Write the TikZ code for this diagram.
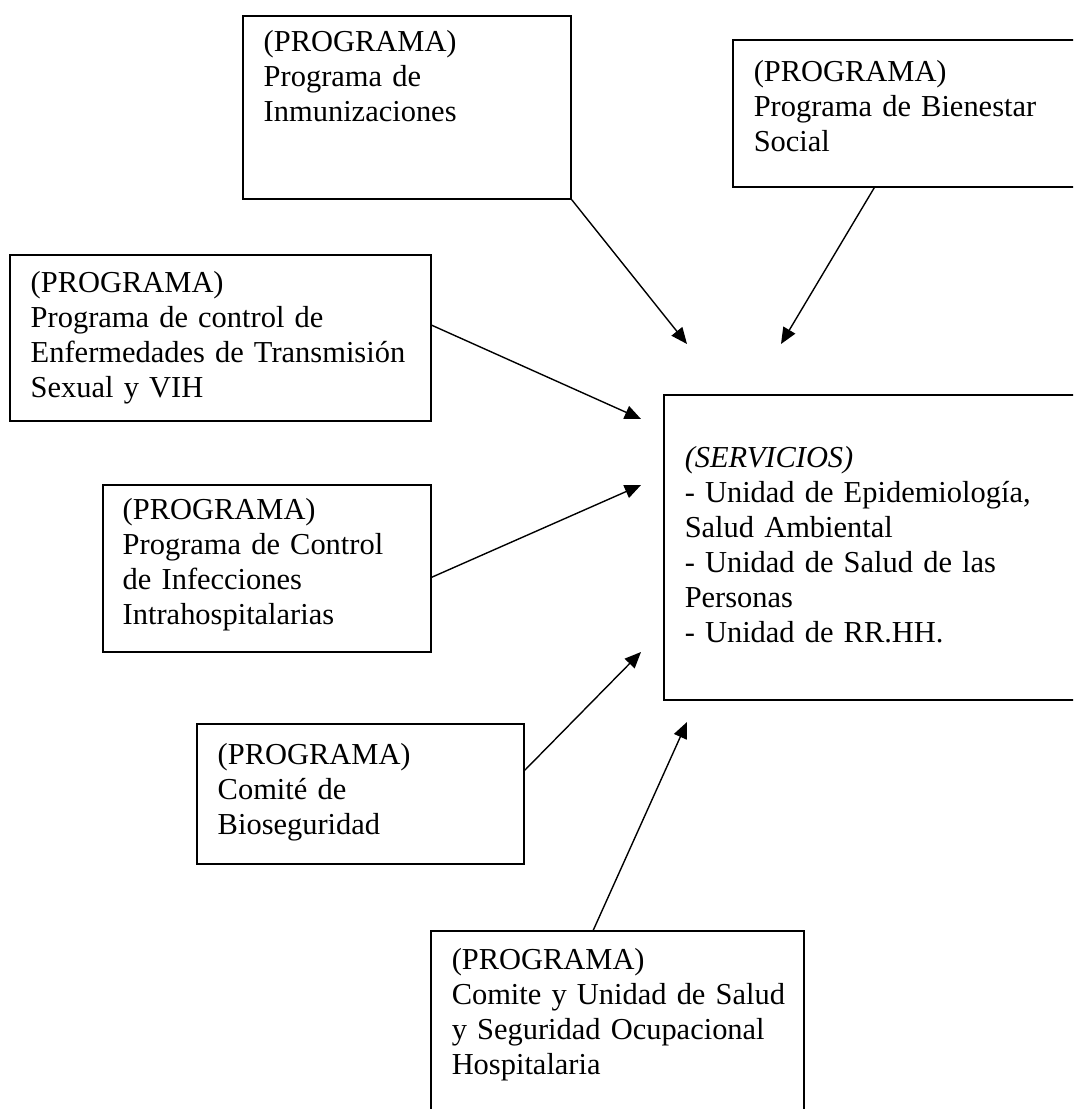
\documentclass[tikz,border=0pt]{standalone}
\usepackage{fontspec}
\setmainfont{Liberation Serif}
\usetikzlibrary{arrows.meta,fit,calc}

\begin{document}
\begin{tikzpicture}[x=0.394pt, y=-0.394pt,
	caja/.style={draw, line width=0.6pt, inner sep=0pt},
	txt/.style={anchor=base west, inner sep=0pt, text width=160pt, align=left, font=\fontsize{12pt}{13.8pt}\selectfont},
	flecha/.style={-{Triangle[length=6.4pt,width=5.4pt]}, line width=0.55pt}]
	\clip (0,0) rectangle (1073,1109);

	\node[caja, fit={(243,16) (571,199)}] (inm) {};
	\node[caja, fit={(733,40) (1090,187)}] (bien) {};
	\node[caja, fit={(10,255) (431,421)}] (ets) {};
	\node[caja, fit={(103,485) (431,652)}] (inf) {};
	\node[caja, fit={(197,724) (524,864)}] (bio) {};
	\node[caja, fit={(431,931) (804,1120)}] (com) {};
	\node[caja, fit={(664,395) (1090,700)}] (serv) {};

	\node[txt] (tinm) at ([shift={(21,36)}]inm.north west) {(PROGRAMA)\\Programa de\\Inmunizaciones};
	\node[txt] (tbien) at ([shift={(21,42)}]bien.north west) {(PROGRAMA)\\Programa de Bienestar\\Social};
	\node[txt] (tets) at ([shift={(21,38)}]ets.north west) {(PROGRAMA)\\Programa de control de\\Enfermedades de Transmisión\\Sexual y VIH};
	\node[txt] (tinf) at ([shift={(20,35)}]inf.north west) {(PROGRAMA)\\Programa de Control\\de Infecciones\\Intrahospitalarias};
	\node[txt] (tbio) at ([shift={(21,41)}]bio.north west) {(PROGRAMA)\\Comité de\\Bioseguridad};
	\node[txt] (tcom) at ([shift={(21,39)}]com.north west) {(PROGRAMA)\\Comite y Unidad de Salud\\y Seguridad Ocupacional\\Hospitalaria};
	\node[txt] (tserv) at ([shift={(21,73)}]serv.north west) {\textit{(SERVICIOS)}\\- Unidad de Epidemiología,\\Salud Ambiental\\- Unidad de Salud de las\\Personas\\- Unidad de RR.HH.};

	\coordinate (p1) at (687,344);
	\coordinate (p2) at (781,344);
	\coordinate (p3) at (641,419);
	\coordinate (p4) at (641,485);
	\coordinate (p5) at (641,652);
	\coordinate (p6) at (687,722);

	\draw[flecha] (inm.south east) -- (p1);
	\draw[flecha] ($(bien.south west)+(142,0)$) -- (p2);
	\draw[flecha] ($(ets.north east)+(0,71)$) -- (p3);
	\draw[flecha] ($(inf.north east)+(0,93)$) -- (p4);
	\draw[flecha] ($(bio.north east)+(0,47)$) -- (p5);
	\draw[flecha] ($(com.north west)+(163,0)$) -- (p6);
\end{tikzpicture}
\end{document}
